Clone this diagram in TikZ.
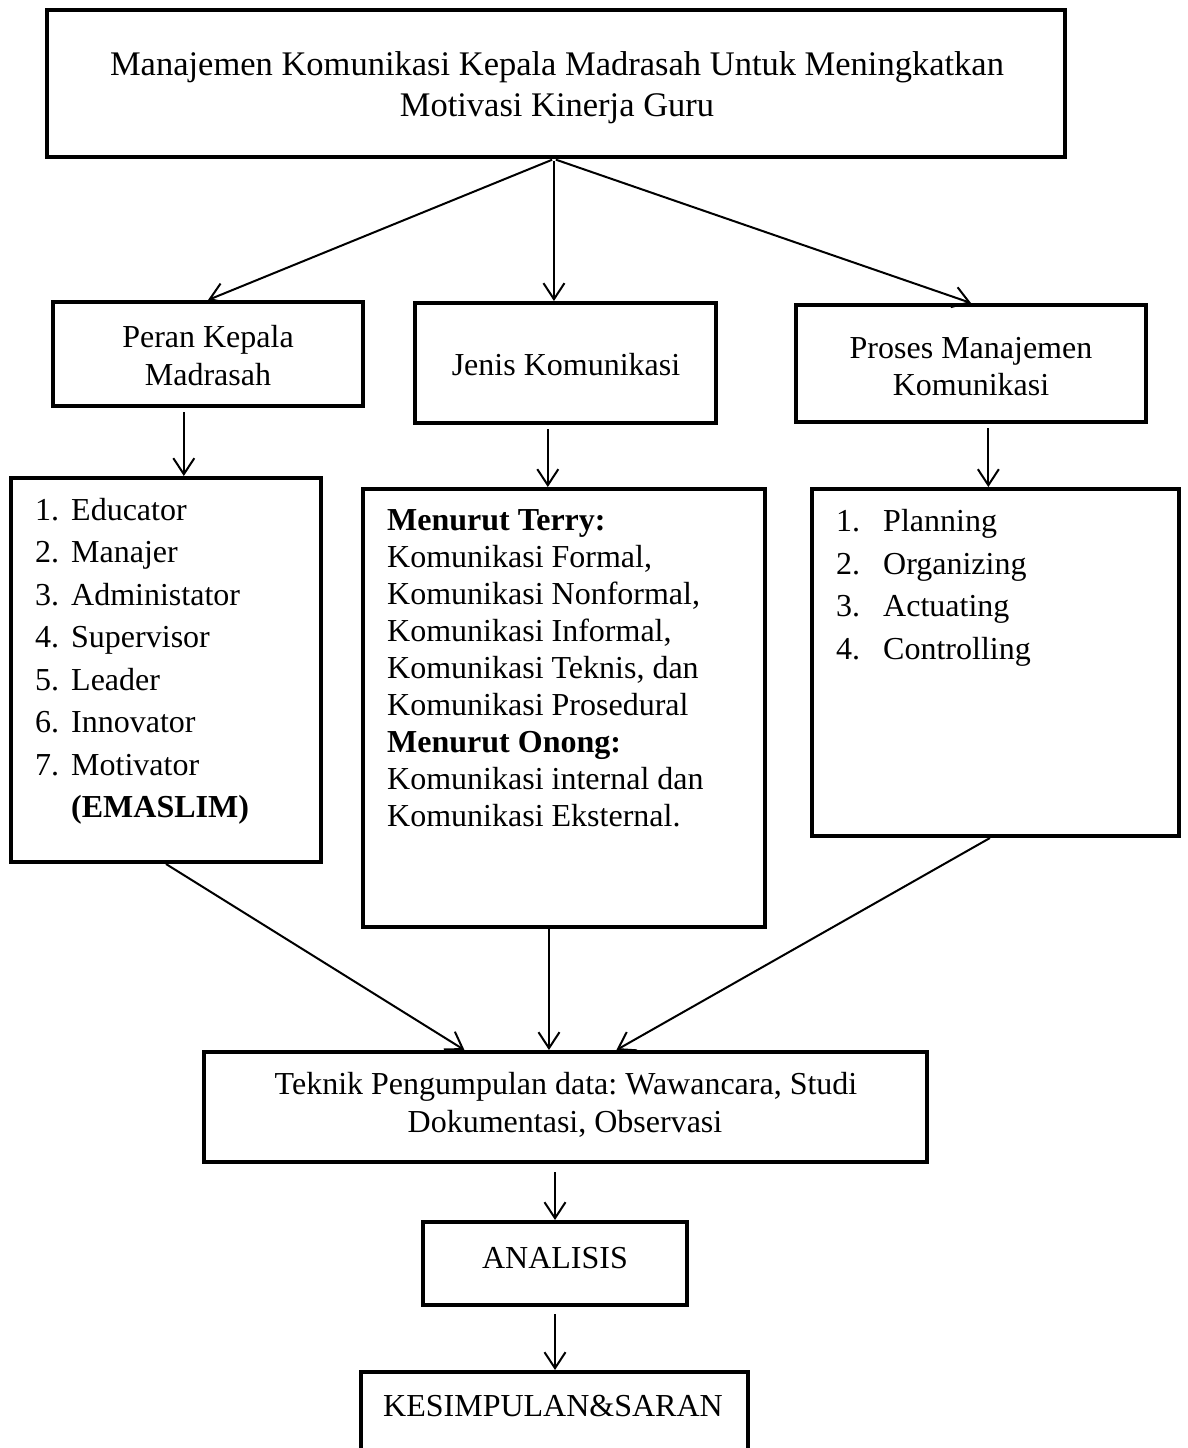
\documentclass[tikz,border=0pt]{standalone}
\usepackage{fontspec}
\setmainfont{Liberation Serif}
\usetikzlibrary{arrows.meta,calc}
\frenchspacing
\begin{document}
\begin{tikzpicture}[x=1pt,y=-1pt,
  box/.style={draw, line width=4pt, inner sep=0pt},
  txt/.style={inner sep=0pt, font=\fontsize{32}{37}\selectfont\frenchspacing},
  ttl/.style={inner sep=0pt, font=\fontsize{34.5}{41}\selectfont\frenchspacing},
  arr/.style={line width=2pt, -{Straight Barb[length=16pt,width=21pt]}}]
\useasboundingbox (0,0) rectangle (1187,1448);
% boxes
\node[box, minimum width=1018pt, minimum height=147pt] (top) at (556,83.5) {};
\node[box, minimum width=310pt, minimum height=104pt] (peran) at (208,354) {};
\node[box, minimum width=301pt, minimum height=120pt] (jenis) at (565.5,363) {};
\node[box, minimum width=350pt, minimum height=117pt] (proses) at (971,363.5) {};
\node[box, minimum width=310pt, minimum height=384pt] (left) at (166,670) {};
\node[box, minimum width=402pt, minimum height=438pt] (mid) at (564,708) {};
\node[box, minimum width=367pt, minimum height=347pt] (right) at (995.5,662.5) {};
\node[box, minimum width=723pt, minimum height=110pt] (teknik) at (565.5,1107) {};
\node[box, minimum width=264pt, minimum height=83pt] (analisis) at (555,1263.5) {};
\node[box, minimum width=387pt, minimum height=120pt] (kes) at (554.5,1432) {};
% texts
\node[ttl, anchor=base] (t1) at (557,75) {Manajemen Komunikasi Kepala Madrasah Untuk Meningkatkan};
\node[ttl, anchor=base] (t2) at (557,116) {Motivasi Kinerja Guru};
\node[txt, anchor=base] (p1) at (208,347) {Peran Kepala};
\node[txt, anchor=base] (p2) at (208,385) {Madrasah};
\node[txt, anchor=base] (j1) at (566,375) {Jenis Komunikasi};
\node[txt, anchor=base] (q1) at (971,358) {Proses Manajemen};
\node[txt, anchor=base] (q2) at (971,395) {Komunikasi};
\foreach \n/\t [count=\i from 0] in {1/Educator,2/Manajer,3/Administator,4/Supervisor,5/Leader,6/Innovator,7/Motivator}{
  \node[txt, anchor=base west] (ln\i) at (35,{520+42.5*\i}) {\n.};
  \node[txt, anchor=base west] (lt\i) at (71,{520+42.5*\i}) {\t};
}
\node[txt, anchor=base west] (lem) at (71,817.5) {\textbf{(EMASLIM)}};
\node[txt, anchor=base west] (m0) at (387,530) {\textbf{Menurut Terry:}};
\node[txt, anchor=base west] (m1) at (387,567) {Komunikasi Formal,};
\node[txt, anchor=base west] (m2) at (387,604) {Komunikasi Nonformal,};
\node[txt, anchor=base west] (m3) at (387,641) {Komunikasi Informal,};
\node[txt, anchor=base west] (m4) at (387,678) {Komunikasi Teknis, dan};
\node[txt, anchor=base west] (m5) at (387,715) {Komunikasi Prosedural};
\node[txt, anchor=base west] (m6) at (387,752) {\textbf{Menurut Onong:}};
\node[txt, anchor=base west] (m7) at (387,789) {Komunikasi internal dan};
\node[txt, anchor=base west] (m8) at (387,826) {Komunikasi Eksternal.};
\foreach \n/\t [count=\i from 0] in {1/Planning,2/Organizing,3/Actuating,4/Controlling}{
  \node[txt, anchor=base west] (rn\i) at (836,{531.5+42.5*\i}) {\n.};
  \node[txt, anchor=base west] (rt\i) at (883,{531.5+42.5*\i}) {\t};
}
\node[txt, anchor=base] (k1) at (566,1094) {Teknik Pengumpulan data: Wawancara, Studi};
\node[txt, anchor=base] (k2) at (565,1132) {Dokumentasi, Observasi};
\node[txt, anchor=base] (an) at (555,1268) {ANALISIS};
\node[txt, anchor=base] (ks) at (553,1416) {KESIMPULAN\&SARAN};
% connectors
\coordinate (a0) at ($(top.south west)!0.498!(top.south east)$);
\draw[arr, shorten <=2pt] (a0) -- (peran.north);
\draw[arr, shorten <=2pt] (a0) -- (a0 |- jenis.north);
\draw[arr, shorten <=2pt] (a0) -- (proses.north);
\coordinate (b1) at ($(peran.south west)!0.423!(peran.south east)$);
\draw[arr, shorten <=4pt] (b1) -- (b1 |- left.north);
\coordinate (b2) at ($(jenis.south west)!0.442!(jenis.south east)$);
\draw[arr, shorten <=4pt] (b2) -- (b2 |- mid.north);
\coordinate (b3) at ($(proses.south west)!0.549!(proses.south east)$);
\draw[arr, shorten <=4pt] (b3) -- (b3 |- right.north);
\draw[arr] (left.south) -- ($(teknik.north west)!0.361!(teknik.north east)$);
\coordinate (c2) at ($(mid.south west)!0.463!(mid.south east)$);
\draw[arr] (c2) -- (c2 |- teknik.north);
\draw[arr] ($(right.south west)!0.485!(right.south east)$) -- ($(teknik.north west)!0.57!(teknik.north east)$);
\draw[arr, shorten <=8pt] (analisis.north |- teknik.south) -- (analisis.north);
\draw[arr, shorten <=7pt] (analisis.south) -- (analisis.south |- kes.north);
\end{tikzpicture}
\end{document}
